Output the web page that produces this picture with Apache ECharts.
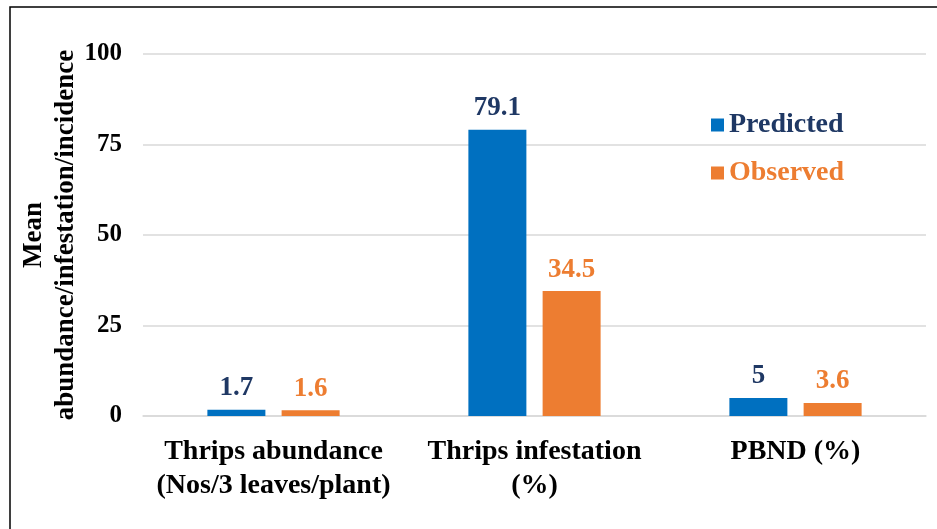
<!DOCTYPE html>
<html>
<head>
<meta charset="utf-8">
<script src="https://cdn.jsdelivr.net/npm/echarts@6/dist/echarts.min.js"></script>
<style>
  html, body { margin: 0; padding: 0; background: #fff; }
  #main { width: 937px; height: 529px; }
</style>
</head>
<body>
<div id="main"></div>
<script>
var categories = ['Thrips abundance\n(Nos/3 leaves/plant)', 'Thrips infestation\n(%)', 'PBND (%)'];
var predicted = [1.7, 79.1, 5];
var observed = [1.6, 34.5, 3.6];
var yTicks = [0, 25, 50, 75, 100];

var font = "'Liberation Serif', 'Times New Roman', serif";
var chart = echarts.init(document.getElementById('main'));
var option = {
    color: ['#0070c0', '#ed7d31'],
    textStyle: { fontFamily: font },
    graphic: [{
        type: 'rect',
        shape: { x: 10, y: 7, width: 960, height: 560 },
        style: { fill: 'none', stroke: '#000', lineWidth: 1.5 },
        silent: true
    }],
    legend: {
        orient: 'vertical',
        left: 706,
        top: 106,
        itemWidth: 13,
        itemHeight: 13,
        itemGap: 20,
        icon: 'rect',
        textStyle: { fontFamily: font, fontSize: 28, fontWeight: 'bold' },
        data: [
            { name: 'Predicted', textStyle: { color: '#1f3864' } },
            { name: 'Observed', textStyle: { color: '#ed7d31' } }
        ]
    },
    grid: { left: 143, right: 11, top: 54, bottom: 113, outerBoundsMode: 'none', containLabel: false },
    xAxis: {
        type: 'category',
        data: categories,
        axisLine: { show: true, lineStyle: { color: '#d9d9d9', width: 1.5 } },
        axisTick: { show: false },
        axisLabel: {
            color: '#000', fontFamily: font, fontSize: 28, fontWeight: 'bold',
            lineHeight: 34, margin: 19, interval: 0
        }
    },
    yAxis: {
        type: 'value',
        min: yTicks[0],
        max: yTicks[yTicks.length - 1],
        interval: 25,
        name: 'Mean\nabundance/infestation/incidence',
        nameLocation: 'middle',
        nameRotate: 90,
        nameGap: 61,
        nameMoveOverlap: false,
        nameTextStyle: { color: '#000', fontFamily: font, fontSize: 27, fontWeight: 'bold', lineHeight: 32 },
        axisLine: { show: false },
        axisTick: { show: false },
        axisLabel: { color: '#000', fontFamily: font, fontSize: 25, fontWeight: 'bold', margin: 21 },
        splitLine: { lineStyle: { color: '#d9d9d9', width: 1.5 } }
    },
    series: [{
        type: 'bar',
        name: 'Predicted',
        data: predicted,
        barWidth: 58,
        barGap: '28%',
        label: {
            show: true, position: 'top', distance: 8,
            color: '#1f3864', fontFamily: font, fontSize: 27, fontWeight: 'bold'
        }
    }, {
        type: 'bar',
        name: 'Observed',
        data: observed,
        barWidth: 58,
        label: {
            show: true, position: 'top', distance: 8,
            color: '#ed7d31', fontFamily: font, fontSize: 27, fontWeight: 'bold'
        }
    }]
};
chart.setOption(option);
window.addEventListener('resize', function () {
    chart.resize();
});
</script>
</body>
</html>
